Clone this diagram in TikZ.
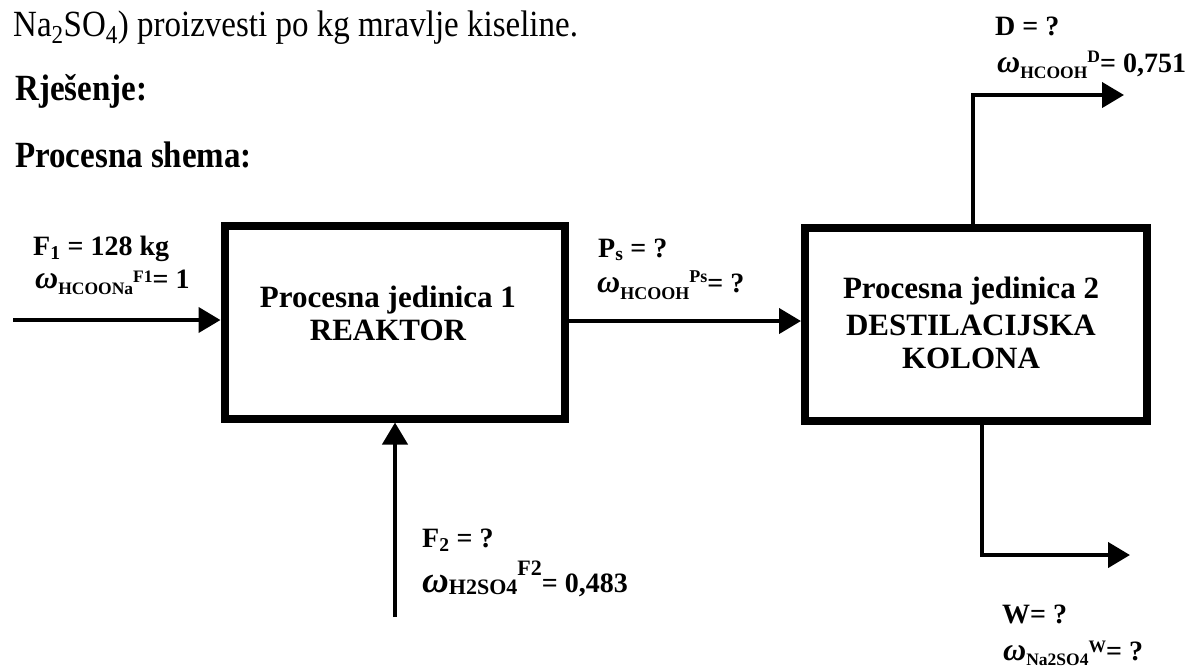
\documentclass[tikz,border=0pt]{standalone}
\usepackage{fontspec}
\setmainfont{Liberation Serif}
\usetikzlibrary{arrows.meta}
% omega label: #1 omega size, #2 sub lower, #3 small size, #4 subscript, #5 sup raise, #6 superscript, #7 rest
\newcommand{\omlab}[7]{{\fontsize{#1}{#1}\selectfont\bfseries\itshape ω}\raisebox{-#2}{\fontsize{#3}{#3}\selectfont\bfseries #4}\raisebox{#5}{\fontsize{#3}{#3}\selectfont\bfseries #6}#7}
\newcommand{\tallt}[1]{\scalebox{1}[1.12]{#1}}
\tikzset{
  unitbox/.style={draw, line width=8pt, inner sep=0pt},
  arr/.style={line width=4.2pt, -{Triangle[length=22pt,width=25pt]}},
  bodytxt/.style={inner sep=0pt, anchor=base west, font=\fontsize{33}{40}\selectfont},
  headtxt/.style={inner sep=0pt, anchor=base west, font=\fontsize{33}{40}\selectfont\bfseries},
  boxtxt/.style={inner sep=0pt, anchor=base, font=\fontsize{31}{34}\selectfont\bfseries},
  lab/.style={inner sep=0pt, anchor=base west, font=\fontsize{28}{30}\selectfont\bfseries},
}
\begin{document}
\begin{tikzpicture}[x=1pt,y=-1pt]
\useasboundingbox (0,0) rectangle (1189,667);
% header text
\node[bodytxt] (t1) at (13,36) {\tallt{Na\textsubscript{2}SO\textsubscript{4}) proizvesti po kg mravlje kiseline.}};
\node[headtxt] (t2) at (15,100) {\tallt{Rješenje:}};
\node[headtxt] (t3) at (15,167) {\tallt{Procesna shema:}};
% units
\node[unitbox, minimum width=340pt, minimum height=193pt] (r) at (394.5,322) {};
\node[unitbox, minimum width=342pt, minimum height=193pt] (d) at (976,324.5) {};
\node[boxtxt] (r1) at (388,307) {Procesna jedinica 1};
\node[boxtxt] (r2) at (388,340) {REAKTOR};
\node[boxtxt] (d1) at (971,298) {Procesna jedinica 2};
\node[boxtxt] (d2) at (971,335) {DESTILACIJSKA};
\node[boxtxt] (d3) at (971,368) {KOLONA};
% streams
\coordinate (f1s) at (13,320);
\draw[arr] (f1s) -- (f1s -| r.west);
\coordinate (ps) at (0,321);
\draw[arr] (ps -| r.east) -- (ps -| d.west);
\coordinate (f2s) at (395,617);
\draw[arr] (f2s) -- (f2s |- r.south);
\coordinate (dc) at (973,95);
\coordinate (de) at (1124,95);
\draw[arr] (dc |- d.north) -- (dc) -- (de);
\coordinate (wc) at (982,555);
\coordinate (we) at (1130,555);
\draw[arr] (wc |- d.south) -- (wc) -- (we);
% labels
\node[lab] (lf1a) at (33,255) {F\textsubscript{1} = 128 kg};
\node[lab] (lf1b) at (35,288) {\omlab{32}{6pt}{17.5}{HCOONa}{6pt}{F1}{= 1}};
\node[lab] (lpsa) at (598,257) {P\textsubscript{s} = ?};
\node[lab] (lpsb) at (597,292) {\omlab{32}{7pt}{18}{HCOOH}{10pt}{Ps}{= ?}};
\node[lab] (lf2a) at (422,547) {F\textsubscript{2} = ?};
\node[lab] (lf2b) at (422,592) {\omlab{37}{2pt}{22}{H2SO4}{17pt}{F2}{= 0,483}};
\node[lab] (lda) at (995,35) {D = ?};
\node[lab] (ldb) at (997,72) {\omlab{32}{6pt}{17.5}{HCOOH}{10pt}{D}{= 0,751}};
\node[lab] (lwa) at (1002,623) {W= ?};
\node[lab] (lwb) at (1003,660) {\omlab{32}{5pt}{17.5}{Na2SO4}{8pt}{W}{= ?}};
\end{tikzpicture}
\end{document}
